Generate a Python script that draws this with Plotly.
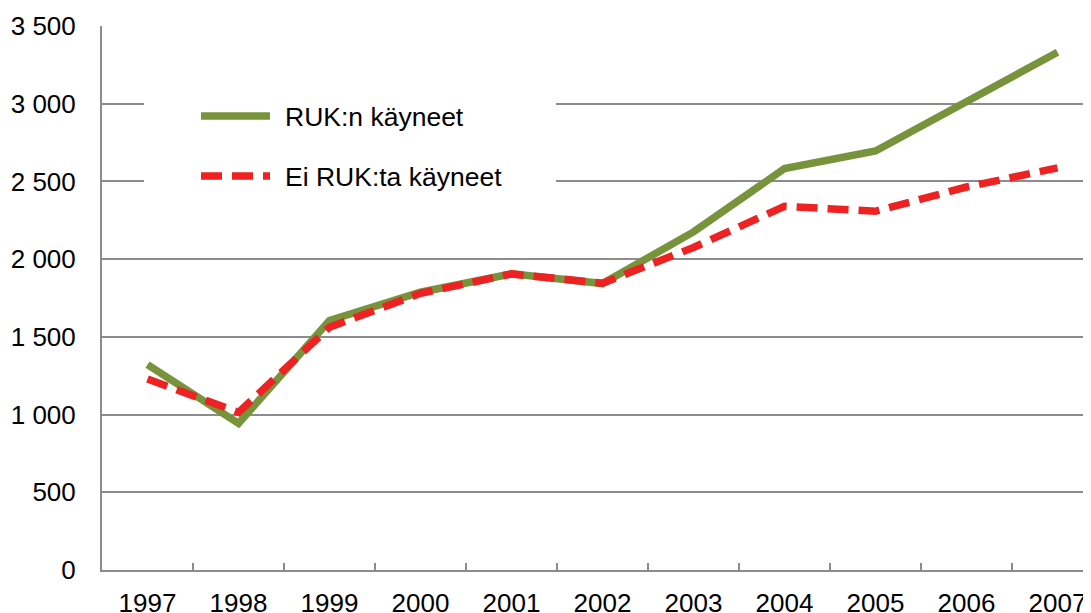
import plotly.graph_objects as go

years = ["1997", "1998", "1999", "2000", "2001", "2002", "2003", "2004", "2005", "2006", "2007"]
ruk_kayneet = [1321, 943, 1605, 1787, 1906, 1843, 2175, 2583, 2696, 3012, 3331]
ei_ruk = [1229, 1014, 1562, 1780, 1905, 1845, 2075, 2340, 2308, 2464, 2587]
series_names = ["RUK:n käyneet", "Ei RUK:ta käyneet"]
y_ticks = [0, 500, 1000, 1500, 2000, 2500, 3000, 3500]

GREEN = "#77933C"
RED = "#EE2222"
GRID = "#8C8C8C"
FONT = "Liberation Sans, Arial, sans-serif"

# the page body has an 8px margin: compensate so the plot lands where the reference has it
OFF = 8
W, H = 1091 - OFF, 613 - OFF
L, R, T, B = 102 - OFF, 0, 26 - OFF, 613 - 570
PW, PH = W - L - R, H - T - B

def px_x(px):
    return (px - OFF - L) / PW

def px_y(py):
    return (H - B - (py - OFF)) / PH

fig = go.Figure()
fig.add_trace(go.Scatter(x=years, y=ruk_kayneet, mode="lines", name=series_names[0],
                         line=dict(color=GREEN, width=7.5), showlegend=False))
fig.add_trace(go.Scatter(x=years, y=ei_ruk, mode="lines", name=series_names[1],
                         line=dict(color=RED, width=7.5, dash="21px,10px"), showlegend=False))

# manual legend box (white background interrupts the gridlines)
fig.add_shape(type="rect", xref="paper", yref="paper",
              x0=px_x(144), x1=px_x(556), y0=px_y(205), y1=px_y(70),
              fillcolor="white", line=dict(width=0), layer="above")
fig.add_shape(type="line", xref="paper", yref="paper",
              x0=px_x(201), x1=px_x(270), y0=px_y(116), y1=px_y(116),
              line=dict(color=GREEN, width=7.5), layer="above")
fig.add_shape(type="line", xref="paper", yref="paper",
              x0=px_x(201), x1=px_x(270), y0=px_y(176), y1=px_y(176),
              line=dict(color=RED, width=7.5, dash="21px,10px"), layer="above")
fig.add_annotation(xref="paper", yref="paper", x=px_x(283), y=px_y(117),
                   text=series_names[0], showarrow=False, xanchor="left", yanchor="middle",
                   font=dict(family=FONT, size=26.5, color="black"))
fig.add_annotation(xref="paper", yref="paper", x=px_x(283), y=px_y(177),
                   text=series_names[1], showarrow=False, xanchor="left", yanchor="middle",
                   font=dict(family=FONT, size=26.5, color="black"))

fig.update_layout(
    width=W, height=H,
    margin=dict(l=L, r=R, t=T, b=B, pad=0),
    paper_bgcolor="white", plot_bgcolor="white",
    separators=", ",
    font=dict(family=FONT, size=26, color="black"),
    showlegend=False,
)
fig.update_xaxes(
    type="category", range=[-0.5, -0.5 + PW / 91.0], automargin=False,
    showline=True, linecolor=GRID, linewidth=2,
    showgrid=False, ticks="inside", ticklen=7, tickcolor=GRID, tickwidth=2,
    tickson="boundaries", ticklabelstandoff=9,
    tickfont=dict(family=FONT, size=26, color="black"),
)
fig.update_yaxes(
    range=[0, 3500], tickvals=y_ticks, tickformat=",d", automargin=False,
    showline=True, linecolor=GRID, linewidth=2,
    showgrid=True, gridcolor=GRID, gridwidth=1.5,
    ticks="", ticklabelstandoff=19, zeroline=False,
    tickfont=dict(family=FONT, size=26, color="black"),
)

fig.write_html("out.html")
